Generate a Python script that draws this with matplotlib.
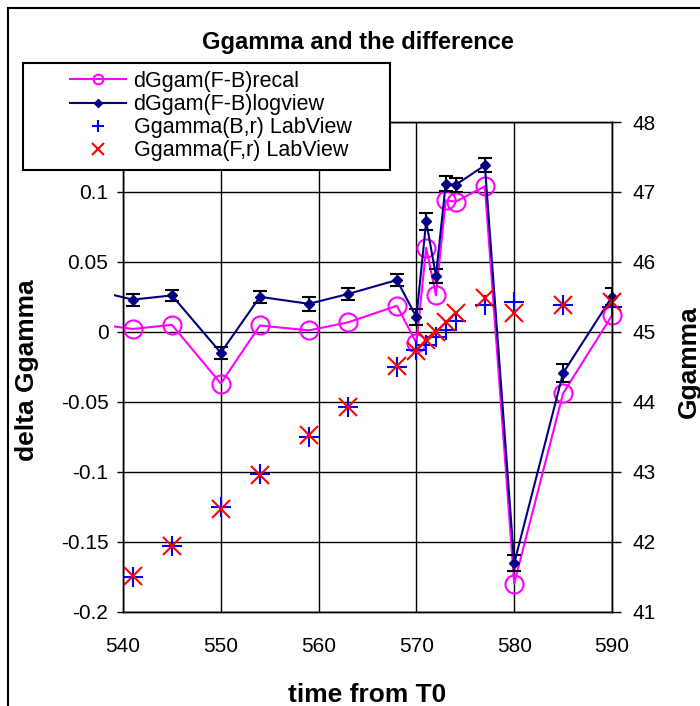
import matplotlib
matplotlib.use("Agg")
import matplotlib.pyplot as plt
from matplotlib.lines import Line2D
from matplotlib.patches import Rectangle
from matplotlib.ticker import FuncFormatter

plt.rcParams['font.family'] = ['Liberation Sans', 'DejaVu Sans']

# difference series, left axis (the 537 point lies just off the left edge)
t_delta = [537, 541, 545, 550, 554, 559, 563, 568, 570, 571, 572, 573, 574, 577, 580, 585, 590]
d_recal = [0.0058, 0.002, 0.005, -0.037, 0.0045, 0.001, 0.0067, 0.0186, -0.008, 0.060,
           0.026, 0.094, 0.093, 0.104, -0.180, -0.044, 0.0117]
d_logview = [0.0297, 0.023, 0.026, -0.015, 0.025, 0.020, 0.027, 0.037, 0.0105, 0.079,
             0.040, 0.106, 0.105, 0.119, -0.1655, -0.0295, 0.025]
d_logview_err = [0.0045, 0.0043, 0.0042, 0.0042, 0.0045, 0.005, 0.0043, 0.0045, 0.0058, 0.006,
                 0.0052, 0.0052, 0.005, 0.005, 0.0057, 0.0064, 0.006]

# LabView Ggamma, right axis
t_lab = [541, 545, 550, 554, 559, 563, 568, 570, 571, 572, 573, 574, 577, 580, 585, 590]
gg_B = [41.50, 41.93, 42.49, 42.96, 43.50, 43.93, 44.50, 44.74, 44.81, 44.92, 45.03, 45.15,
        45.38, 45.42, 45.39, 45.36]
gg_F = [41.51, 41.94, 42.46, 42.95, 43.52, 43.93, 44.51, 44.72, 44.88, 44.99, 45.14, 45.27,
        45.48, 45.27, 45.39, 45.42]

x_ticks = [540, 550, 560, 570, 580, 590]
left_ticks = [-0.2, -0.15, -0.1, -0.05, 0, 0.05, 0.1, 0.15]
right_ticks = [41, 42, 43, 44, 45, 46, 47, 48]

labels = ['dGgam(F-B)recal', 'dGgam(F-B)logview', 'Ggamma(B,r) LabView', 'Ggamma(F,r) LabView']

MAGENTA = '#FF00FF'
NAVY = '#000080'

W, H = 700, 706
fig = plt.figure(figsize=(W / 100, H / 100), dpi=100)
ax1 = fig.add_axes([123 / W, 1 - 611.5 / H, (612 - 123) / W, (611.5 - 122) / H])
ax2 = ax1.twinx()

# lines may run a little past the left edge, like the spreadsheet does
clip = Rectangle((539.1, -0.5), 60, 1.0, transform=ax1.transData)

l1, = ax1.plot(t_delta, d_recal, color=MAGENTA, lw=1.5, marker='o', ms=13,
               mfc='none', mec=MAGENTA, mew=1.5, zorder=3)
l1.set_clip_path(clip)

eb = ax1.errorbar(t_delta[1:], d_logview[1:], yerr=d_logview_err[1:], fmt='none',
                  ecolor='black', elinewidth=1.5, capsize=4.7, capthick=1.5, zorder=4)
l2, = ax1.plot(t_delta, d_logview, color=NAVY, lw=1.5, marker='D', ms=5.5,
               mfc=NAVY, mec=NAVY, zorder=5)
l2.set_clip_path(clip)

ax2.plot(t_lab, gg_B, ls='none', marker='+', ms=14, mew=1.5, color='#0000FF', clip_on=False)
ax2.plot(t_lab, gg_F, ls='none', marker='x', ms=13, mew=1.5, color='#FF0000', clip_on=False)

ax1.set_xlim(540, 590)
ax1.set_ylim(-0.2, 0.15)
ax2.set_ylim(41, 48)
ax1.set_xticks(x_ticks)
ax1.set_yticks(left_ticks)
ax2.set_yticks(right_ticks)
ax1.yaxis.set_major_formatter(FuncFormatter(lambda v, p: f"{v:g}"))

ax1.grid(True, color='black', lw=1.0)
ax1.set_axisbelow(True)
for ax in (ax1, ax2):
    for s in ax.spines.values():
        s.set_color('black')
        s.set_linewidth(1.0)

ax1.tick_params(axis='x', direction='in', length=0, pad=18.5, labelsize=15)
ax1.tick_params(axis='y', direction='out', length=4.5, width=1.0, pad=6, labelsize=15)
ax2.tick_params(axis='y', direction='out', length=6.5, width=1.0, pad=8.5, labelsize=15)

fig.text(357.5 / W, 1 - 42 / H, 'Ggamma and the difference', ha='center', va='center',
         fontsize=17, fontweight='bold')
fig.text(27.5 / W, 1 - 370 / H, 'delta Ggamma', rotation=90, ha='center', va='center',
         fontsize=19, fontweight='bold')
fig.text(689 / W, 1 - 362 / H, 'Ggamma', rotation=90, ha='center', va='center',
         fontsize=19, fontweight='bold')
fig.text(367.5 / W, 1 - 694.6 / H, 'time from T0', ha='center', va='center',
         fontsize=19, fontweight='bold')

# outer chart frame, only left and top edges fall inside the image
fig.add_artist(Rectangle((8 / W, -0.5), 2.0, 1.5 - 8 / H, transform=fig.transFigure,
                         fill=False, ec='black', lw=1.5, zorder=1))

# legend box sits over the plot area
fig.add_artist(Rectangle((23 / W, 1 - 170 / H), 367 / W, 107 / H, transform=fig.transFigure,
                         fc='white', ec='black', lw=1.5, zorder=4))
handles = [
    Line2D([], [], color=MAGENTA, lw=1.5, marker='o', ms=7, mfc='none', mew=1.5),
    Line2D([], [], color=NAVY, lw=1.5, marker='D', ms=4.5),
    Line2D([], [], ls='none', color='#0000FF', marker='+', ms=9, mew=1.5),
    Line2D([], [], ls='none', color='#FF0000', marker='x', ms=8, mew=1.5),
]
leg = fig.legend(handles, labels, loc='upper left', bbox_to_anchor=(70 / W, 1 - 71 / H),
                 frameon=False, borderpad=0, borderaxespad=0, labelspacing=0.1,
                 handlelength=2.6, handletextpad=0.35, fontsize=15.5)
leg.set_zorder(5)

fig.savefig('out.png', dpi=100)
